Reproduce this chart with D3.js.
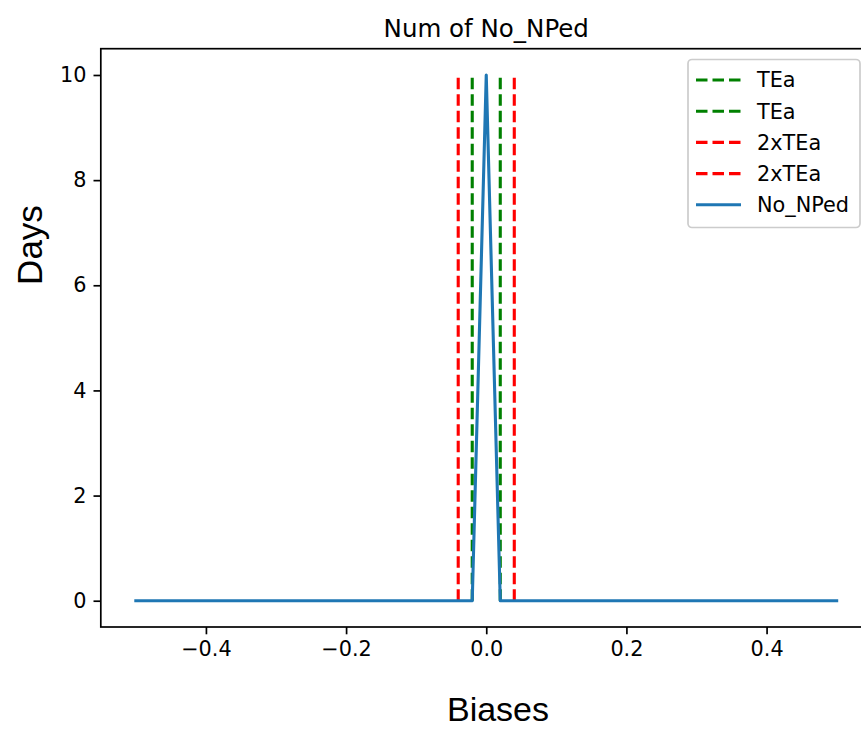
<!DOCTYPE html>
<html><head><meta charset="utf-8">
<script src="https://cdn.jsdelivr.net/npm/d3@7"></script>
<style>
html,body{margin:0;padding:0;background:#fff;overflow:hidden;}
svg{display:block;}
</style></head>
<body>
<script>
const biases = [-0.5,-0.48,-0.46,-0.44,-0.42,-0.4,-0.38,-0.36,-0.34,-0.32,-0.3,-0.28,-0.26,-0.24,-0.22,-0.2,-0.18,-0.16,-0.14,-0.12,-0.1,-0.08,-0.06,-0.04,-0.02,0,0.02,0.04,0.06,0.08,0.1,0.12,0.14,0.16,0.18,0.2,0.22,0.24,0.26,0.28,0.3,0.32,0.34,0.36,0.38,0.4,0.42,0.44,0.46,0.48,0.5];
const days = [0,0,0,0,0,0,0,0,0,0,0,0,0,0,0,0,0,0,0,0,0,0,0,0,0,10,0,0,0,0,0,0,0,0,0,0,0,0,0,0,0,0,0,0,0,0,0,0,0,0,0];
const refLines = [
  {label:"TEa", x:-0.02, color:"green"},
  {label:"TEa", x:0.02, color:"green"},
  {label:"2xTEa", x:-0.04, color:"red"},
  {label:"2xTEa", x:0.04, color:"red"}
];
const seriesName = "No_NPed";
const xTicks = [-0.4,-0.2,0.0,0.2,0.4];
const yTicks = [0,2,4,6,8,10];
const xDomain = [-0.55,0.55];
const yDomain = [-0.5,10.5];

const W = 861, H = 729;
const svg = d3.select("body").append("svg").attr("width",W).attr("height",H);
const L = 100.8, R = 871.7, T = 48.7, B = 627;
const x = d3.scaleLinear().domain(xDomain).range([L,R]);
const y = d3.scaleLinear().domain(yDomain).range([B,T]);
const tickFont = "'DejaVu Sans', sans-serif";
const lw = 3.1;

// reference lines
const plot = svg.append("g");
refLines.forEach(r=>{
  plot.append("line")
    .attr("x1",x(r.x)).attr("x2",x(r.x))
    .attr("y1",y(0)).attr("y2",y(10))
    .attr("stroke",r.color).attr("stroke-width",lw)
    .attr("stroke-dasharray","11.5,5");
});
// series
const pts = biases.map((b,i)=>[b,days[i]]);
plot.append("path").datum(pts)
  .attr("d", d3.line().x(d=>x(d[0])).y(d=>y(d[1])))
  .attr("fill","none").attr("stroke","#1f77b4").attr("stroke-width",lw)
  .attr("stroke-linejoin","round").attr("stroke-linecap","square");

// axes
const xAxis = svg.append("g").attr("transform",`translate(0,${B})`)
  .call(d3.axisBottom(x).tickValues(xTicks).tickSize(7.3).tickPadding(7)
    .tickFormat(d=> d===0 ? "0.0" : d3.format(".1f")(d).replace("-","\u2212")));
const yAxis = svg.append("g").attr("transform",`translate(${L},0)`)
  .call(d3.axisLeft(y).tickValues(yTicks).tickSize(7.3).tickPadding(7).tickFormat(d3.format("d")));
[xAxis,yAxis].forEach(a=>{
  a.select(".domain").remove();
  a.selectAll(".tick line").attr("stroke","#000").attr("stroke-width",1.7);
  a.selectAll(".tick text").attr("fill","#000").style("font-family",tickFont).style("font-size","20.8px");
});
// spines
const sp = svg.append("g").attr("fill","none").attr("stroke","#000").attr("stroke-width",1.7);
sp.append("rect").attr("x",L).attr("y",T).attr("width",R-L).attr("height",B-T);

// title
svg.append("text").attr("x",(L+R)/2).attr("y",37).attr("text-anchor","middle")
  .style("font-family",tickFont).style("font-size","24.5px").attr("fill","#000").text("Num of No_NPed");
// axis labels
svg.append("text").attr("x",498).attr("y",721).attr("text-anchor","middle")
  .style("font-family","'Liberation Sans', Arial, sans-serif").style("font-size","34px").attr("fill","#000").text("Biases");
svg.append("text").attr("transform","translate(42,245) rotate(-90)").attr("text-anchor","middle")
  .style("font-family","'Liberation Sans', Arial, sans-serif").style("font-size","35px").attr("fill","#000").text("Days");

// legend
const leg = svg.append("g");
const lx = 688, ly = 59.5, lwid = 172, lh = 168;
leg.append("rect").attr("x",lx).attr("y",ly).attr("width",lwid).attr("height",lh)
  .attr("rx",4).attr("fill","#fff").attr("fill-opacity",0.8).attr("stroke","#cccccc").attr("stroke-width",1.7);
const entries = refLines.map(r=>({label:r.label,color:r.color,dash:"11.5,5"}))
  .concat([{label:seriesName,color:"#1f77b4",dash:null}]);
entries.forEach((e,i)=>{
  const cy = 80 + i*31.2;
  const ln = leg.append("line").attr("x1",696).attr("x2",741).attr("y1",cy).attr("y2",cy)
    .attr("stroke",e.color).attr("stroke-width",lw);
  if(e.dash) ln.attr("stroke-dasharray",e.dash);
  leg.append("text").attr("x",757).attr("y",cy).attr("dy","0.36em")
    .style("font-family",tickFont).style("font-size","20.8px").attr("fill","#000").text(e.label);
});
</script>
</body></html>
